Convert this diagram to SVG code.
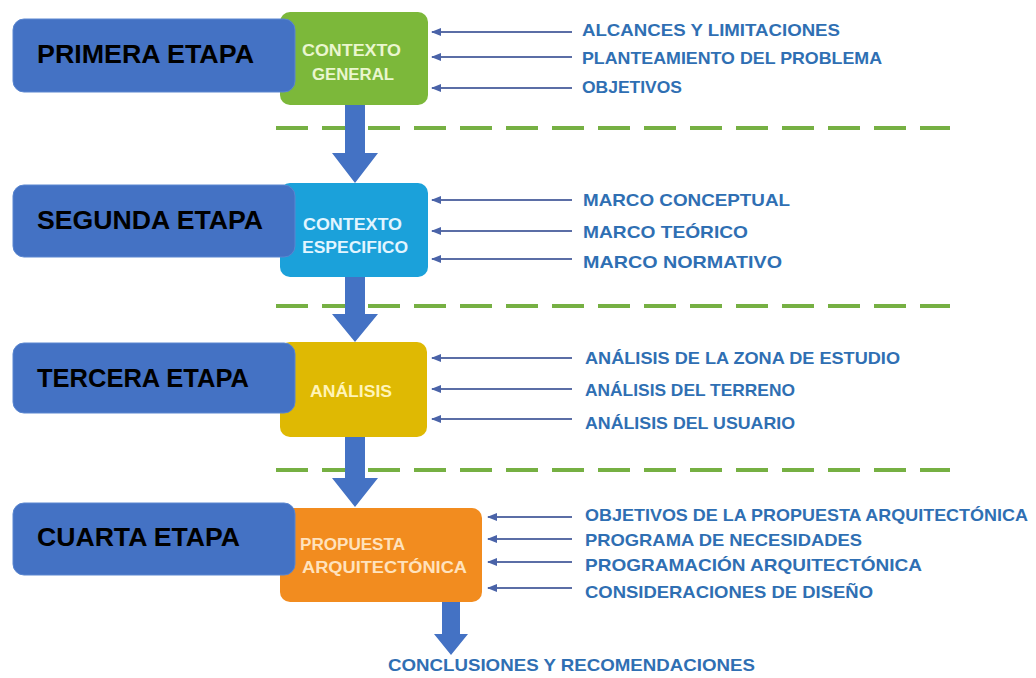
<svg xmlns="http://www.w3.org/2000/svg" width="1036" height="678" viewBox="0 0 1036 678">
<defs>
<marker id="ah" markerWidth="10" markerHeight="8" refX="1" refY="4" orient="auto" markerUnits="userSpaceOnUse">
<path d="M10,0 L0,4 L10,8 Z" fill="#4a63a8"/>
</marker>
<style>
.lbl{fill:#4472c4;stroke:#5a86d0;stroke-width:1}
.lt{font-family:"Liberation Sans",Arial,sans-serif;font-weight:bold;font-size:26px;fill:#000}
.bt{font-family:"Liberation Sans",Arial,sans-serif;font-weight:bold;font-size:16px}
.it{font-family:"Liberation Sans",Arial,sans-serif;font-weight:bold;font-size:17px;fill:#2f6fb3}
.con line{stroke:#5b6ea6;stroke-width:2;marker-start:url(#ah)}
.dash{stroke:#76b043;stroke-width:4;stroke-dasharray:32,14}
.big{fill:#4472c4}
</style>
</defs>
<rect width="1036" height="678" fill="#ffffff"/>
<g id="dashes">
<line class="dash" x1="276" y1="128" x2="950" y2="128"/>
<line class="dash" x1="276" y1="306" x2="950" y2="306"/>
<line class="dash" x1="276" y1="470" x2="950" y2="470"/>
</g>
<g id="connectors">
<path class="big" d="M345,105 H365 V153 H378 L355,183 L332,153 H345 Z"/>
<path class="big" d="M345,277 H365 V314 H378 L355,342 L332,314 H345 Z"/>
<path class="big" d="M345,437 H365 V478 H378 L355,507 L332,478 H345 Z"/>
<path class="big" d="M442,602 H460 V634 H468 L451,655 L434,634 H442 Z"/>
<g class="con">
<line x1="432" y1="32" x2="572" y2="32"/>
<line x1="432" y1="57" x2="572" y2="57"/>
<line x1="432" y1="88" x2="572" y2="88"/>
<line x1="432" y1="200" x2="572" y2="200"/>
<line x1="432" y1="231" x2="572" y2="231"/>
<line x1="432" y1="259" x2="572" y2="259"/>
<line x1="432" y1="358" x2="572" y2="358"/>
<line x1="432" y1="389" x2="572" y2="389"/>
<line x1="432" y1="419" x2="572" y2="419"/>
<line x1="488" y1="517" x2="572" y2="517"/>
<line x1="488" y1="539" x2="572" y2="539"/>
<line x1="488" y1="562" x2="572" y2="562"/>
<line x1="488" y1="588" x2="572" y2="588"/>
</g>
</g>
<g id="n-contexto-general">
<rect x="280" y="12" width="148" height="93" rx="10" fill="#7cb83a"/>
<text class="bt" x="302" y="56" fill="#eaf6cf" textLength="99" lengthAdjust="spacingAndGlyphs">CONTEXTO</text>
<text class="bt" x="312" y="80" fill="#eaf6cf" textLength="82" lengthAdjust="spacingAndGlyphs">GENERAL</text>
</g>
<g id="n-contexto-especifico">
<rect x="280" y="183" width="148" height="94" rx="10" fill="#1ba1da"/>
<text class="bt" x="303" y="230" fill="#e2f5ff" textLength="99" lengthAdjust="spacingAndGlyphs">CONTEXTO</text>
<text class="bt" x="302" y="253" fill="#e2f5ff" textLength="106" lengthAdjust="spacingAndGlyphs">ESPECIFICO</text>
</g>
<g id="n-analisis">
<rect x="280" y="342" width="147" height="95" rx="10" fill="#dfb903"/>
<text class="bt" x="310" y="397" fill="#fff4b8" textLength="82" lengthAdjust="spacingAndGlyphs">ANÁLISIS</text>
</g>
<g id="n-propuesta">
<rect x="280" y="508" width="202" height="94" rx="10" fill="#f28c1f"/>
<text class="bt" x="300" y="550" fill="#ffe2bd" textLength="105" lengthAdjust="spacingAndGlyphs">PROPUESTA</text>
<text class="bt" x="302" y="573" fill="#ffe2bd" textLength="165" lengthAdjust="spacingAndGlyphs">ARQUITECTÓNICA</text>
</g>
<g id="labels">
<g id="l1"><rect class="lbl" x="13" y="19" width="282" height="73" rx="11"/><text class="lt" x="37" y="63" textLength="217" lengthAdjust="spacingAndGlyphs">PRIMERA ETAPA</text></g>
<g id="l2"><rect class="lbl" x="13" y="185" width="282" height="72" rx="11"/><text class="lt" x="37" y="229" textLength="226" lengthAdjust="spacingAndGlyphs">SEGUNDA ETAPA</text></g>
<g id="l3"><rect class="lbl" x="13" y="343" width="282" height="70" rx="11"/><text class="lt" x="37" y="387" textLength="212" lengthAdjust="spacingAndGlyphs">TERCERA ETAPA</text></g>
<g id="l4"><rect class="lbl" x="13" y="503" width="282" height="72" rx="11"/><text class="lt" x="37" y="546" textLength="203" lengthAdjust="spacingAndGlyphs">CUARTA ETAPA</text></g>
</g>
<g id="items">
<text class="it" x="582" y="36" textLength="258" lengthAdjust="spacingAndGlyphs">ALCANCES Y LIMITACIONES</text>
<text class="it" x="582" y="64" textLength="300" lengthAdjust="spacingAndGlyphs">PLANTEAMIENTO DEL PROBLEMA</text>
<text class="it" x="582" y="93" textLength="100" lengthAdjust="spacingAndGlyphs">OBJETIVOS</text>
<text class="it" x="583" y="206" textLength="207" lengthAdjust="spacingAndGlyphs">MARCO CONCEPTUAL</text>
<text class="it" x="583" y="238" textLength="165" lengthAdjust="spacingAndGlyphs">MARCO TEÓRICO</text>
<text class="it" x="583" y="268" textLength="199" lengthAdjust="spacingAndGlyphs">MARCO NORMATIVO</text>
<text class="it" x="585" y="364" textLength="315" lengthAdjust="spacingAndGlyphs">ANÁLISIS DE LA ZONA DE ESTUDIO</text>
<text class="it" x="585" y="396" textLength="210" lengthAdjust="spacingAndGlyphs">ANÁLISIS DEL TERRENO</text>
<text class="it" x="585" y="429" textLength="210" lengthAdjust="spacingAndGlyphs">ANÁLISIS DEL USUARIO</text>
<text class="it" x="585" y="521" textLength="443" lengthAdjust="spacingAndGlyphs">OBJETIVOS DE LA PROPUESTA ARQUITECTÓNICA</text>
<text class="it" x="585" y="546" textLength="277" lengthAdjust="spacingAndGlyphs">PROGRAMA DE NECESIDADES</text>
<text class="it" x="585" y="571" textLength="337" lengthAdjust="spacingAndGlyphs">PROGRAMACIÓN ARQUITECTÓNICA</text>
<text class="it" x="585" y="598" textLength="288" lengthAdjust="spacingAndGlyphs">CONSIDERACIONES DE DISEÑO</text>
<text class="it" x="388" y="671" textLength="367" lengthAdjust="spacingAndGlyphs">CONCLUSIONES Y RECOMENDACIONES</text>
</g>
</svg>
